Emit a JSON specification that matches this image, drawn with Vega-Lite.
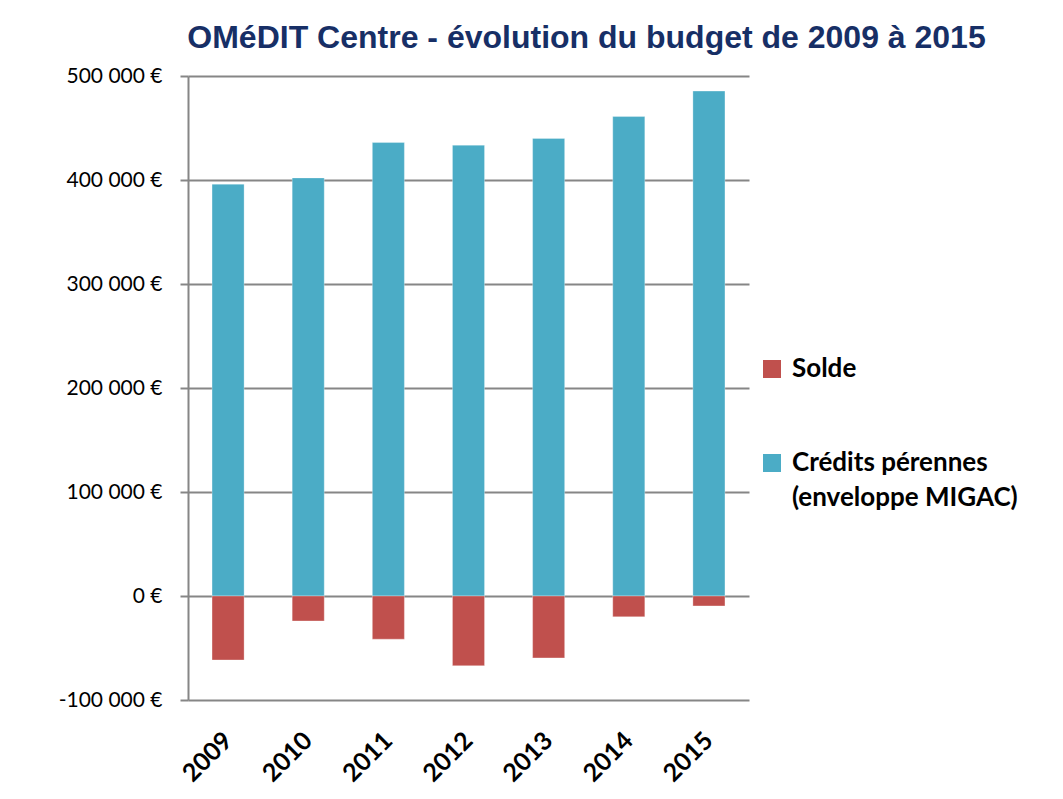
{
  "$schema": "https://vega.github.io/schema/vega-lite/v6.json",
  "autosize": {"type": "none"},
  "padding": {"left": 188, "top": 76, "right": 314, "bottom": 99},
  "width": 561,
  "height": 624,
  "background": "white",
  "title": {
    "text": "OMéDIT Centre  - évolution du budget de 2009 à 2015",
    "font": "Liberation Sans",
    "fontSize": 32,
    "fontWeight": "bold",
    "color": "#172F66",
    "anchor": "middle",
    "baseline": "alphabetic",
    "dx": 118,
    "dy": 32,
    "offset": 17
  },
  "config": {
    "view": {"stroke": null},
    "style": {"guide-label": {"lineHeight": 35}},
    "locale": {"number": {"decimal": ",", "thousands": "\u00a0", "grouping": [3], "currency": ["", "\u00a0€"], "minus": "-"}}
  },
  "data": {
    "values": [
      {"year": "2009", "series": "Crédits pérennes (enveloppe MIGAC)", "value": 396000},
      {"year": "2010", "series": "Crédits pérennes (enveloppe MIGAC)", "value": 402000},
      {"year": "2011", "series": "Crédits pérennes (enveloppe MIGAC)", "value": 436000},
      {"year": "2012", "series": "Crédits pérennes (enveloppe MIGAC)", "value": 433500},
      {"year": "2013", "series": "Crédits pérennes (enveloppe MIGAC)", "value": 440000},
      {"year": "2014", "series": "Crédits pérennes (enveloppe MIGAC)", "value": 461000},
      {"year": "2015", "series": "Crédits pérennes (enveloppe MIGAC)", "value": 485500},
      {"year": "2009", "series": "Solde", "value": -61500},
      {"year": "2010", "series": "Solde", "value": -24000},
      {"year": "2011", "series": "Solde", "value": -41500},
      {"year": "2012", "series": "Solde", "value": -67000},
      {"year": "2013", "series": "Solde", "value": -59500},
      {"year": "2014", "series": "Solde", "value": -20000},
      {"year": "2015", "series": "Solde", "value": -9500}
    ]
  },
  "mark": {"type": "bar", "stroke": "white", "strokeWidth": 0.6, "strokeOpacity": 0.5},
  "encoding": {
    "x": {
      "field": "year",
      "type": "nominal",
      "scale": {"paddingInner": 0.6, "paddingOuter": 0.3},
      "axis": {
        "title": null,
        "domain": false,
        "ticks": false,
        "labelAngle": -45,
        "labelAlign": "right",
        "labelBaseline": "middle",
        "labelPadding": 36,
        "labelFont": "Lato",
        "labelFontWeight": "bold",
        "labelFontSize": 25,
        "labelColor": "black"
      }
    },
    "y": {
      "field": "value",
      "type": "quantitative",
      "stack": "zero",
      "scale": {"domain": [-100000, 500000], "nice": false, "zero": false},
      "axis": {
        "title": null,
        "values": [-100000, 0, 100000, 200000, 300000, 400000, 500000],
        "format": "$,.0f",
        "domainColor": "#868686",
        "domainWidth": 2,
        "gridColor": "#868686",
        "gridWidth": 2,
        "tickColor": "#868686",
        "tickWidth": 2,
        "tickSize": 8,
        "labelPadding": 18,
        "labelFont": "Lato",
        "labelFontSize": 21,
        "labelColor": "black"
      }
    },
    "color": {
      "field": "series",
      "type": "nominal",
      "scale": {
        "domain": ["Solde", "Crédits pérennes (enveloppe MIGAC)"],
        "range": ["#C0504D", "#4BACC6"]
      },
      "legend": {
        "title": null,
        "orient": "none",
        "legendX": 571,
        "legendY": 280,
        "padding": 0,
        "symbolType": "square",
        "symbolSize": 324,
        "symbolStrokeWidth": 0,
        "labelOffset": 7,
        "labelFont": "Lato",
        "labelFontWeight": "bold",
        "labelFontSize": 26,
        "labelColor": "black",
        "labelLimit": 400,
        "labelBaseline": "middle",
        "rowPadding": 68,
        "labelExpr": "datum.label == 'Solde' ? 'Solde' : ['Crédits pérennes', '(enveloppe MIGAC)']"
      }
    },
    "order": {"field": "series", "type": "nominal"}
  }
}
